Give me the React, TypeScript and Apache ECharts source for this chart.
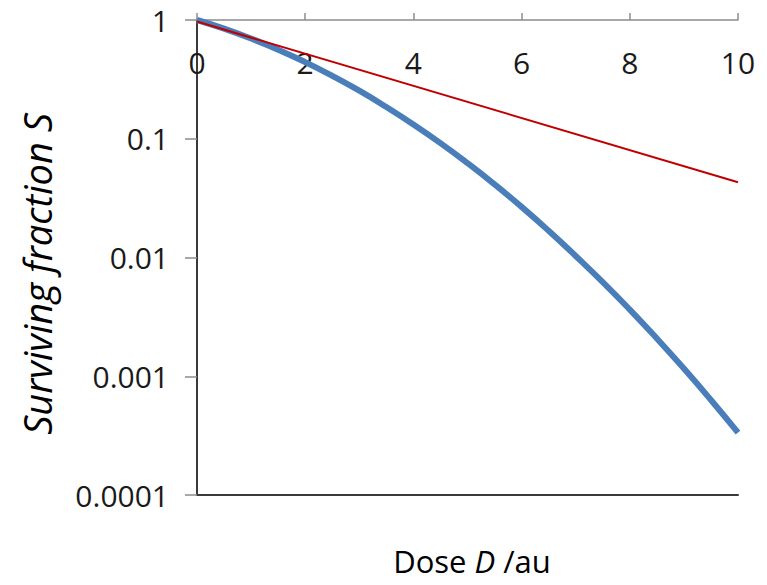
import React, { useEffect, useRef } from "react";
import * as echarts from "echarts";

// Dose values (au) at which the surviving fraction was sampled
const doses = [0, 0.5, 1, 1.5, 2, 2.5, 3, 3.5, 4, 4.5, 5, 5.5, 6, 6.5, 7, 7.5, 8, 8.5, 9, 9.5, 10];
// Linear-quadratic survival curve
const survival = [
  1.0, 0.846, 0.698, 0.563, 0.442, 0.339, 0.254, 0.185, 0.132, 0.0919, 0.0623,
  0.0413, 0.0267, 0.0168, 0.0103, 0.00621, 0.00364, 0.00208, 0.00116, 0.000631, 0.000335,
];
// Initial-slope (single-hit) line end points
const linearDoses = [0, 10];
const linearSurvival = [0.97, 0.043];

const xTicks = ["0", "2", "4", "6", "8", "10"];
const yTickLabels = ["0.0001", "0.001", "0.01", "0.1", "1"];

const FONT = "'Open Sans', 'Noto Sans', sans-serif";

export default function App() {
  const ref = useRef<HTMLDivElement>(null);

  useEffect(() => {
    if (!ref.current) return;
    const chart = echarts.init(ref.current, undefined, { renderer: "svg" });

    const logLabel = (v: number) => {
      const e = Math.round(Math.log10(v));
      return yTickLabels[e + 4] ?? "";
    };

    chart.setOption({
      animation: false,
      backgroundColor: "#ffffff",
      grid: { left: 197, right: 29, top: 20, bottom: 90 },
      xAxis: [
        {
          type: "value",
          position: "top",
          min: 0,
          max: 10,
          interval: 2,
          axisLine: { show: true, lineStyle: { color: "#8c8c8c", width: 1.5 } },
          axisTick: { show: true, inside: false, length: 7, lineStyle: { color: "#8c8c8c", width: 1.5 } },
          axisLabel: {
            inside: true,
            margin: 27,
            fontFamily: FONT,
            fontSize: 30,
            color: "#1a1a1a",
            formatter: (v: number) => xTicks[Math.round(v / 2)] ?? "",
          },
          splitLine: { show: false },
        },
        {
          type: "value",
          position: "bottom",
          min: 0,
          max: 10,
          axisLine: { show: true, onZero: false, lineStyle: { color: "#3a3a3a", width: 2 } },
          axisTick: { show: false },
          axisLabel: { show: false },
          splitLine: { show: false },
        },
      ],
      yAxis: [
        {
          type: "log",
          logBase: 10,
          min: 0.0001,
          max: 1,
          axisLine: { show: true, lineStyle: { color: "#8c8c8c", width: 1.5 } },
          axisTick: { show: true, inside: false, length: 12, lineStyle: { color: "#8c8c8c", width: 1.5 } },
          axisLabel: {
            margin: 28,
            fontFamily: FONT,
            fontSize: 30,
            color: "#1a1a1a",
            formatter: logLabel,
          },
          minorTick: { show: false },
          splitLine: { show: false },
        },
        {
          type: "log",
          logBase: 10,
          min: 0.0001,
          max: 1,
          position: "right",
          axisLine: { show: true, lineStyle: { color: "#3a3a3a", width: 2 } },
          axisTick: { show: false },
          axisLabel: { show: false },
          splitLine: { show: false },
        },
      ],
      series: [
        {
          type: "line",
          xAxisIndex: 0,
          yAxisIndex: 0,
          data: doses.map((d, i) => [d, survival[i]]),
          smooth: true,
          showSymbol: false,
          clip: false,
          lineStyle: { color: "#4a7ebb", width: 6 },
          z: 3,
        },
        {
          type: "line",
          xAxisIndex: 0,
          yAxisIndex: 0,
          data: linearDoses.map((d, i) => [d, linearSurvival[i]]),
          showSymbol: false,
          clip: false,
          lineStyle: { color: "#c00000", width: 2 },
          z: 4,
        },
      ],
      graphic: [
        {
          type: "text",
          x: 37,
          y: 274,
          rotation: Math.PI / 2,
          style: {
            text: "Surviving fraction S",
            fontFamily: FONT,
            fontSize: 38,
            fontStyle: "italic",
            fill: "#000000",
            align: "center",
            verticalAlign: "middle",
          },
        },
        {
          type: "text",
          x: 472,
          y: 561,
          style: {
            text: "{a|Dose }{i|D}{a| /au}",
            align: "center",
            verticalAlign: "middle",
            rich: {
              a: { fontFamily: FONT, fontSize: 31, fill: "#000000" },
              i: { fontFamily: FONT, fontSize: 31, fontStyle: "italic", fill: "#000000" },
            },
          },
        },
      ],
    });

    return () => chart.dispose();
  }, []);

  return (
    <div
      ref={ref}
      style={{ position: "fixed", left: 0, top: 0, width: 767, height: 585 }}
    />
  );
}
